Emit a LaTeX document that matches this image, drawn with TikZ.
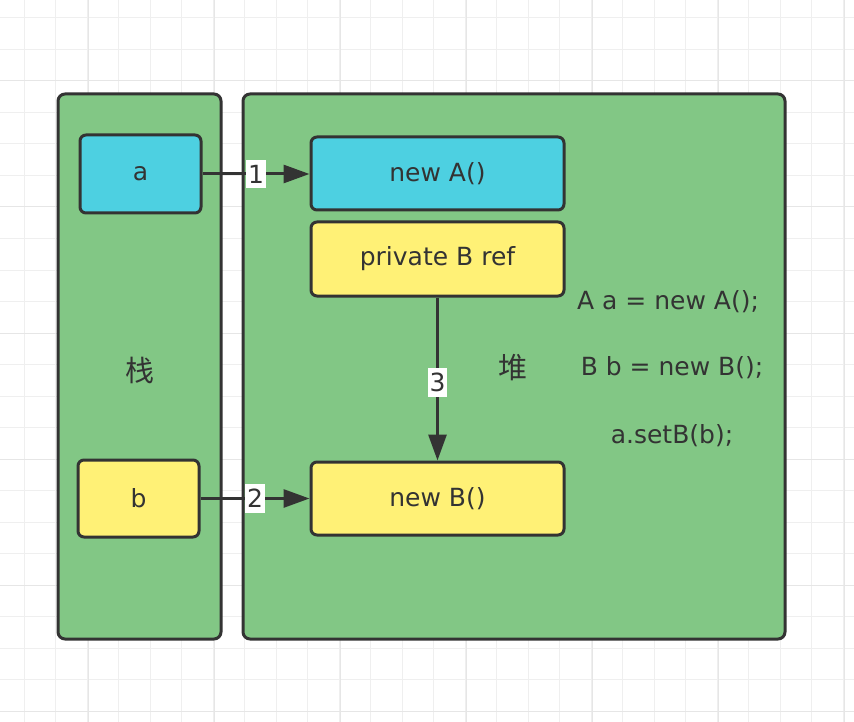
\documentclass[tikz,border=0pt]{standalone}
\usepackage{fontspec}
\setmainfont{DejaVu Sans}
\newfontfamily\cjk{Noto Sans CJK SC}
\usetikzlibrary{positioning,arrows.meta}

\definecolor{panelgreen}{HTML}{82C785}
\definecolor{refcyan}{HTML}{4DD0E1}
\definecolor{refyellow}{HTML}{FFF176}
\definecolor{darkline}{HTML}{333333}
\definecolor{gridgray}{HTML}{EFEFEF}
\definecolor{gridmajor}{HTML}{E6E6E6}

\begin{document}
\begin{tikzpicture}[x=1pt, y=-1pt, font=\fontsize{25}{30}\selectfont, text=darkline]
                \tikzstyle{panel} = [rectangle, rounded corners=7pt, draw=darkline, line width=3pt, fill=panelgreen, inner sep=0pt]
                \tikzstyle{cell} = [rectangle, rounded corners=6pt, draw=darkline, line width=3pt, inner sep=0pt, text centered]
                \tikzstyle{arrow} = [line width=3pt, draw=darkline, -{Triangle[length=26pt,width=18pt]}]
                \tikzstyle{numlabel} = [fill=white, inner xsep=2pt, inner ysep=5pt, midway]
                \tikzstyle{hanzi} = [font=\cjk\fontsize{29}{34}\selectfont]
                \useasboundingbox (0,0) rectangle (854,722);
                \fill[white] (0,0) rectangle (854,722);
                % background grid
                \foreach \gx in {0,...,26} {
                    \draw[gridgray, line width=1pt] (24+\gx*31.5,0) -- (24+\gx*31.5,722);
                }
                \foreach \gy in {0,...,22} {
                    \draw[gridgray, line width=1pt] (0,18+\gy*31.5) -- (854,18+\gy*31.5);
                }
                \foreach \gx in {0,...,6} {
                    \draw[gridmajor, line width=1pt] (88+\gx*126,0) -- (88+\gx*126,722);
                }
                \foreach \gy in {0,...,5} {
                    \draw[gridmajor, line width=1pt] (0,81+\gy*126) -- (854,81+\gy*126);
                }

                \node (stack) [panel, minimum width=163pt, minimum height=545pt] at (139.5,366.5) {};
                \node (heap) [panel, minimum width=542pt, minimum height=545pt] at (514,366.5) {};
                \node (stacklabel) [hanzi] at (140,370) {栈};
                \node (heaplabel) [hanzi] at (513,368) {堆};

                \node (vara) [cell, fill=refcyan, minimum width=121pt, minimum height=78pt] at (140.5,174) {a};
                \node (varb) [cell, fill=refyellow, minimum width=121pt, minimum height=77pt] at (138.5,498.5) {b};
                \node (newA) [cell, fill=refcyan, minimum width=253pt, minimum height=73pt] at (437.5,173.5) {new A()};
                \node (refB) [cell, fill=refyellow, minimum width=253pt, minimum height=74pt, below=9pt of newA] {private B ref};
                \node (newB) [cell, fill=refyellow, minimum width=253pt, minimum height=73pt] at (437.5,498.5) {new B()};

                \node (code1) at (668,302) {A a = new A();};
                \node (code2) at (672,368) {B b = new B();};
                \node (code3) at (672,436) {a.setB(b);};

                \draw [arrow] (vara.east) -- (newA.west |- vara.east) node [numlabel] {1};
                \draw [arrow] (varb) -- (newB) node [numlabel] {2};
                \draw [arrow] (refB) -- (newB) node [numlabel, pos=0.52] {3};

            \end{tikzpicture}
\end{document}
